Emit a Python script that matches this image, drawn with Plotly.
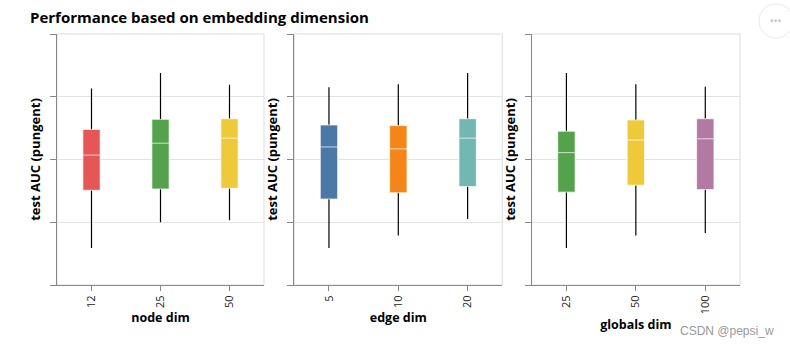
import plotly.graph_objects as go

# ---- data ----
node_dims = ["12", "25", "50"]
node_lo = [0.659, 0.700, 0.703]
node_q1 = [0.751, 0.753, 0.754]
node_med = [0.807, 0.826, 0.834]
node_q3 = [0.848, 0.864, 0.865]
node_hi = [0.913, 0.938, 0.919]

edge_dims = ["5", "10", "20"]
edge_lo = [0.659, 0.679, 0.705]
edge_q1 = [0.737, 0.747, 0.757]
edge_med = [0.820, 0.817, 0.834]
edge_q3 = [0.855, 0.854, 0.865]
edge_hi = [0.915, 0.920, 0.938]

glob_dims = ["25", "50", "100"]
glob_lo = [0.659, 0.679, 0.683]
glob_q1 = [0.748, 0.759, 0.752]
glob_med = [0.811, 0.831, 0.833]
glob_q3 = [0.845, 0.863, 0.865]
glob_hi = [0.938, 0.920, 0.916]

node_colors = ["#e45756", "#54a24b", "#eeca3b"]
edge_colors = ["#4c78a8", "#f58518", "#72b7b2"]
glob_colors = ["#54a24b", "#eeca3b", "#b279a2"]

FONT = "Open Sans"
W, H = 790, 347
ML, MR, MT, MB = 57, 50, 34, 62

panels = [
    ("x", "y", node_dims, node_lo, node_q1, node_med, node_q3, node_hi, node_colors, "node dim"),
    ("x2", "y2", edge_dims, edge_lo, edge_q1, edge_med, edge_q3, edge_hi, edge_colors, "edge dim"),
    ("x3", "y3", glob_dims, glob_lo, glob_q1, glob_med, glob_q3, glob_hi, glob_colors, "globals dim"),
]

fig = go.Figure()
for xa, ya, cats, lo, q1, med, q3, hi, cols, _ in panels:
    for i, c in enumerate(cats):
        # whiskers only (black); box collapsed to a hairline hidden behind the body
        fig.add_trace(go.Box(
            x=[c], q1=[q1[i]], median=[med[i]], q3=[q3[i]],
            lowerfence=[lo[i]], upperfence=[hi[i]],
            fillcolor="black", line=dict(color="black", width=1.2),
            whiskerwidth=0, width=0.0001, boxpoints=False,
            xaxis=xa, yaxis=ya, showlegend=False, hoverinfo="skip"))
        # box body with light median / outline
        fig.add_trace(go.Box(
            x=[c], q1=[q1[i]], median=[med[i]], q3=[q3[i]],
            lowerfence=[q1[i]], upperfence=[q3[i]],
            fillcolor=cols[i], line=dict(color="rgba(255,255,255,0.7)", width=1),
            whiskerwidth=0, width=0.25, boxpoints=False,
            xaxis=xa, yaxis=ya, showlegend=False, hoverinfo="skip"))

pw = W - ML - MR
ph = H - MT - MB
domains = [
    [0, (264 - ML) / pw],
    [(294.3 - ML) / pw, (502.3 - ML) / pw],
    [(531.7 - ML) / pw, 1],
]

layout = dict(
    width=W, height=H,
    margin=dict(l=ML, r=MR, t=MT, b=MB),
    plot_bgcolor="white", paper_bgcolor="white",
    boxmode="overlay",
    font=dict(family=FONT, color="#000"),
    title=dict(text="<b>Performance based on embedding dimension</b>",
               font=dict(size=15, family=FONT, color="#000"),
               xref="container", yref="container",
               x=30 / W, xanchor="left", y=1 - 18 / H, yanchor="middle"),
)

for k, (xa, ya, cats, *_rest) in enumerate(panels):
    xt = _rest[-1]
    sfx = "" if k == 0 else str(k + 1)
    layout["xaxis" + sfx] = dict(
        domain=domains[k], anchor=ya, type="category",
        categoryorder="array", categoryarray=cats,
        range=[-0.5, 2.5],
        showline=True, linecolor="#888", linewidth=1,
        ticks="outside", ticklen=5, tickcolor="#888",
        tickangle=-90, tickfont=dict(size=11, color="#222"),
        showgrid=False, zeroline=False,
        title=dict(text="<b>" + xt + "</b>", font=dict(size=12.5), standoff=6),
    )
    layout["yaxis" + sfx] = dict(
        anchor=xa, range=[0.6, 1.0], tick0=0.6, dtick=0.1,
        showline=True, linecolor="#888", linewidth=1,
        ticks="outside", ticklen=6, tickcolor="#888",
        showticklabels=False,
        showgrid=True, gridcolor="#e3e3e3", gridwidth=1, zeroline=False,
        title=dict(text="<b>test AUC (pungent)</b>", font=dict(size=13), standoff=6),
    )

fig.update_layout(**layout)

# view frames (light gray)
for k in range(3):
    sfx = "" if k == 0 else str(k + 1)
    fig.add_shape(type="rect", xref=f"x{sfx} domain", yref=f"y{sfx} domain",
                  x0=0, x1=1, y0=0, y1=1, line=dict(color="#ddd", width=1),
                  layer="below")

def px(x):
    return (x - ML) / pw
def py(y):
    return (H - MB - y) / ph

# watermark
fig.add_annotation(text="CSDN @pepsi_w", xref="paper", yref="paper",
                   x=px(776), y=py(331),
                   xanchor="right", yanchor="middle", showarrow=False,
                   font=dict(size=12, color="#999", family="Liberation Sans"))

# actions button (partially visible circle with dots)
fig.add_shape(type="circle", xref="paper", yref="paper",
              x0=px(759), x1=px(793), y0=py(38), y1=py(4),
              line=dict(color="#e8e8e8", width=1), fillcolor="white")
fig.add_annotation(text="•••", xref="paper", yref="paper", x=px(776), y=py(21),
                   showarrow=False, font=dict(size=10, color="#bbb"),
                   xanchor="center", yanchor="middle")

fig.write_html("out.html")
